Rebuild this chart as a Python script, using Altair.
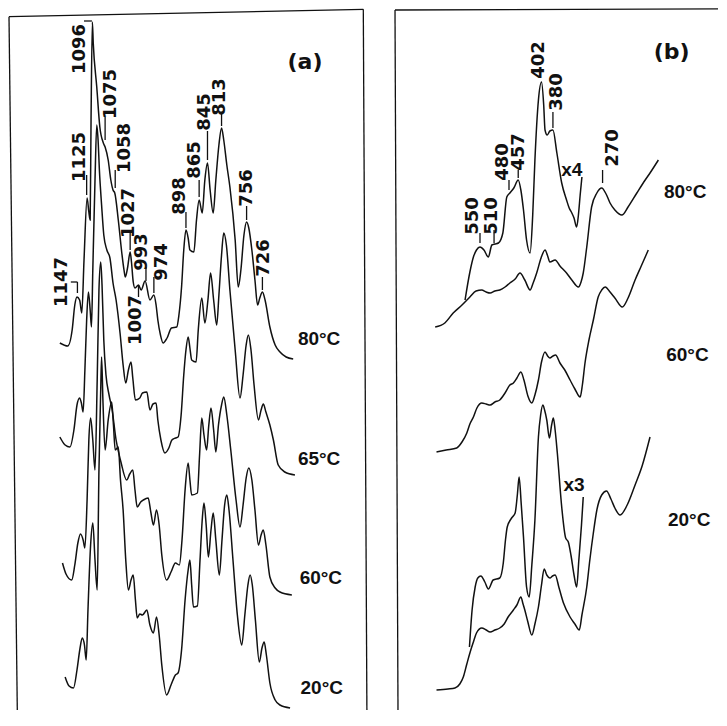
import altair as alt
import pandas as pd

# ---------------- Panel (a): Raman shift (cm-1) vs stacked intensity (a.u.)
A80_W = [1186,1168,1158,1152,1147,1141,1136,1131,1124,1120,1117,1115,1112,1110,1102,1095,1087,1083,1076,1070,1065,1061,1053,1045,1040,1037,1032,1026,1023,1019,1015,1007,1001,992,981,972,967,963,957,951,942,932,920,915,909,904,899,894,890,881,875,869,862,856,850,844,837,831,824,818,813,806,799,787,780,774,767,761,756,749,742,736,731,725,719,708,696,685,671,655]
A80_I = [375,372,388,413,421,418,405,458,520,506,498,598,696,675,631,591,575,571,558,538,528,525,498,465,448,441,450,466,456,436,430,433,428,437,418,423,413,398,383,375,380,390,391,403,431,468,488,480,468,466,498,518,505,538,555,528,505,538,573,590,578,553,531,478,431,448,483,496,490,468,438,413,420,426,418,391,373,366,361,359]

A65_W = [1186,1174,1163,1154,1147,1141,1137,1133,1129,1125,1121,1117,1114,1111,1106,1102,1099,1096,1091,1086,1079,1072,1065,1058,1049,1042,1036,1030,1024,1020,1014,1004,998,988,981,974,967,963,956,947,938,931,923,917,910,904,899,894,890,886,876,871,863,856,849,843,836,829,824,818,813,807,799,787,776,769,762,757,751,744,734,728,723,717,708,700,689,674,651]
A65_I = [281,273,271,288,313,320,315,306,348,398,426,408,391,448,538,593,578,548,513,483,468,460,435,418,385,353,335,348,356,340,318,320,325,326,308,314,315,298,278,265,270,278,280,281,303,343,368,381,370,358,356,388,420,395,418,445,418,393,423,463,485,473,428,368,320,343,373,383,368,333,298,308,314,306,293,278,253,246,243]

A60_W = [1180,1172,1159,1152,1145,1139,1133,1129,1124,1120,1116,1111,1106,1101,1097,1093,1090,1086,1081,1074,1067,1058,1047,1034,1027,1020,1015,1010,1002,996,985,979,973,966,960,954,943,933,923,914,908,901,894,890,886,873,868,863,858,852,847,842,836,831,825,818,813,806,797,785,776,769,762,756,749,742,734,728,723,717,708,696,685,658]
A60_I = [155,144,138,153,175,184,178,170,218,278,300,278,248,338,428,456,433,378,343,323,308,278,256,238,244,248,228,211,216,218,220,206,193,208,193,163,138,146,155,153,178,228,255,238,223,225,263,300,283,268,293,310,288,266,293,313,321,303,268,218,191,213,240,250,238,208,173,183,188,173,141,130,126,123]

A20_W = [1174,1165,1155,1147,1140,1135,1130,1126,1122,1116,1111,1106,1101,1097,1093,1091,1088,1083,1076,1068,1064,1060,1053,1048,1042,1036,1030,1024,1019,1014,1010,1004,998,988,981,973,966,960,954,943,933,923,917,909,901,894,890,886,882,873,867,862,858,853,848,842,837,831,823,817,811,806,801,792,782,772,765,758,753,748,741,732,726,721,716,708,696,685,662]
A20_I = [41,32,30,48,70,80,73,58,108,173,195,158,128,248,328,361,318,268,298,316,293,268,271,238,208,158,128,138,143,118,100,104,103,108,93,85,101,83,53,23,33,43,45,68,118,148,158,133,111,112,158,198,215,193,161,188,205,178,143,178,213,223,208,158,103,73,103,133,143,133,98,56,70,76,63,35,18,13,10]

PEAK_A = ["1147","1125","1096","1075","1058","1027","1007","993","974","898","865","845","813","756","726"]
PEAK_A_W = [1180,1140,1140,1070,1038,1029,1013,998,954,913,879,856,822,761,721]
PEAK_A_I = [436,561,669,624,570,505,398,466,456,522,558,606,621,530,460]
# leader segments: (w1, i1, w2, i2)
LEAD_A_W1 = [1161,1146,1125,1131,1083,1060,1026,1007,990,972,899,869,850,818,761,725]
LEAD_A_I1 = [436,436,543,697,601,548,485,421,451,441,506,538,587,605,512,441]
LEAD_A_W2 = [1146,1146,1125,1113,1083,1060,1026,1007,990,972,899,869,850,818,761,725]
LEAD_A_I2 = [436,425,523,697,578,530,468,433,437,425,490,521,558,592,498,428]

TEMP_A = ["80°C","65°C","60°C","20°C"]
TEMP_A_W = [596,596,592,590]
TEMP_A_I = [379,259,140,30]

# ---------------- Panel (b)
B80X4_W = [584,573,565,558,550,541,531,523,516,508,498,489,482,473,463,457,451,444,436,430,425,417,410,405,402,397,391,384,375,364,353,347,341,336,330,326,322,318]
B80X4_I = [418,446,461,468,471,468,461,473,474,475,485,521,525,530,538,528,508,478,465,503,558,618,636,613,588,583,587,588,565,535,518,510,505,500,491,503,523,541]

B80_W = [652,630,611,591,573,559,546,536,527,516,505,493,482,470,459,448,436,429,421,411,402,396,391,379,368,353,341,326,320,315,307,296,284,273,263,254,243,227,213,193,174,163,144]
B80_I = [391,395,405,413,421,427,428,426,425,427,428,431,435,439,445,438,428,435,445,460,468,462,456,458,452,445,438,431,436,445,471,511,525,530,524,515,508,503,511,525,538,545,558]

B60_W = [649,627,603,591,580,573,565,557,546,536,527,516,505,493,482,474,466,457,450,441,432,425,417,410,402,396,391,384,378,368,357,345,334,322,317,311,302,292,281,273,265,254,243,226,213,197,183,167]
B60_I = [266,268,270,276,285,294,301,310,315,314,313,316,318,325,333,335,340,346,338,322,315,323,338,356,366,362,360,362,363,355,348,338,329,321,333,355,378,398,421,428,431,426,420,411,420,438,452,468]

B20_W = [649,623,607,596,588,580,573,565,558,546,536,527,516,505,495,486,474,466,457,452,448,441,432,425,417,410,404,398,391,385,379,370,360,345,334,324,318,307,300,292,284,273,262,252,243,231,215,197,181,163]
B20_I = [28,29,30,34,41,54,65,76,85,90,88,86,88,90,94,101,108,113,121,114,108,96,83,94,111,133,149,143,140,142,143,130,115,101,94,88,103,131,158,185,208,223,227,219,210,203,213,233,252,281]

B20X3_W = [574,568,561,555,548,539,531,520,505,497,492,488,478,470,465,461,456,451,444,438,432,425,417,412,407,403,398,392,387,383,379,374,364,355,349,343,336,330,325,319,315]
B20X3_I = [71,108,131,140,142,136,129,138,140,155,178,191,200,205,223,241,213,181,131,121,153,198,281,303,313,308,298,280,293,300,288,265,211,180,176,163,143,131,158,193,221]

PEAK_B = ["550","510","480","457","402","380","270"]
PEAK_B_W = [566,523,498,461,416,375,248]
PEAK_B_I = [502,502,556,566,658,626,570]
LEAD_B_W1 = [550,518,484,463,384,271]
LEAD_B_I1 = [485,488,538,548,606,548]
LEAD_B_W2 = [550,518,484,463,384,271]
LEAD_B_I2 = [475,475,528,540,590,535]

TEMP_B = ["80°C","60°C","20°C","x4","x3"]
TEMP_B_W = [83,78,74,341,336]
TEMP_B_I = [526,363,198,548,233]

NUM_FONT = "DejaVu Sans"
LAB_FONT = "Liberation Sans"
INK = "#111111"


def traces(pairs):
    rows = []
    for name, ws, vs in pairs:
        for w, v in zip(ws, vs):
            rows.append({"trace": name, "w": w, "v": v})
    return pd.DataFrame(rows)


def panel(xdom, width, height, tr, peaks, leads, temps, tag, tag_pos, borders):
    xs = alt.Scale(domain=xdom, reverse=True, nice=False, zero=False)
    ys = alt.Scale(domain=[8, 710], nice=False, zero=False)
    X = alt.X("w:Q", scale=xs, axis=None)
    Y = alt.Y("v:Q", scale=ys, axis=None)

    lines = alt.Chart(traces(tr)).mark_line(
        interpolate="monotone", color=INK, strokeWidth=1.5
    ).encode(x=X, y=Y, detail="trace:N", order=alt.Order("w:Q", sort="descending"))

    ldf = pd.DataFrame({"w": leads[0], "v": leads[1], "w2": leads[2], "v2": leads[3]})
    leaders = alt.Chart(ldf).mark_rule(color=INK, strokeWidth=1.3).encode(
        x=X, y=Y, x2="w2:Q", y2="v2:Q")

    pdf = pd.DataFrame({"t": peaks[0], "w": peaks[1], "v": peaks[2]})
    ptext = alt.Chart(pdf).mark_text(
        angle=270, font=NUM_FONT, fontSize=18, fontWeight="bold", color=INK,
        align="center", baseline="middle"
    ).encode(x=X, y=Y, text="t:N")

    tdf = pd.DataFrame({"t": temps[0], "w": temps[1], "v": temps[2]})
    ttext = alt.Chart(tdf).mark_text(
        font=LAB_FONT, fontSize=19, fontWeight="bold", color=INK,
        align="center", baseline="middle"
    ).encode(x=X, y=Y, text="t:N")

    gdf = pd.DataFrame({"t": [tag], "w": [tag_pos[0]], "v": [tag_pos[1]]})
    gtext = alt.Chart(gdf).mark_text(
        font=NUM_FONT, fontSize=22, fontWeight="bold", color=INK,
        align="center", baseline="middle"
    ).encode(x=X, y=Y, text="t:N")

    layers = [lines, leaders, ptext, ttext, gtext]
    one = pd.DataFrame({"k": [0]})
    for (x1, y1, x2, y2) in borders:
        layers.append(alt.Chart(one).mark_rule(color=INK, strokeWidth=1.3).encode(
            x=alt.value(x1), y=alt.value(y1), x2=alt.value(x2), y2=alt.value(y2)))
    return alt.layer(*layers).properties(width=width, height=height)


pa = panel(
    [475.6, 1304.0], 364, 702,
    [("80", A80_W, A80_I), ("65", A65_W, A65_I), ("60", A60_W, A60_I), ("20", A20_W, A20_I)],
    (PEAK_A, PEAK_A_W, PEAK_A_I),
    (LEAD_A_W1, LEAD_A_I1, LEAD_A_W2, LEAD_A_I2),
    (TEMP_A, TEMP_A_W, TEMP_A_I),
    "(a)", (628, 656),
    [(1, 8.7, 355.3, 1.3), (1, 8.7, 9.3, 702), (355.3, 1.3, 358.9, 702)],
)

pb = panel(
    [6.0, 768.5], 335, 702,
    [("80x4", B80X4_W, B80X4_I), ("80", B80_W, B80_I), ("60", B60_W, B60_I),
     ("20", B20_W, B20_I), ("20x3", B20X3_W, B20X3_I)],
    (PEAK_B, PEAK_B_W, PEAK_B_I),
    (LEAD_B_W1, LEAD_B_I1, LEAD_B_W2, LEAD_B_I2),
    (TEMP_B, TEMP_B_W, TEMP_B_I),
    "(b)", (114, 666),
    [(11, 2, 334, 0.8), (11, 2, 14, 702)],
)

chart = alt.hconcat(pa, pb, spacing=12).properties(
    padding={"left": 0, "top": 0, "right": 0, "bottom": 0},
    background="white",
).configure_view(stroke=None)

chart.save("out.html", embed_options={"renderer": "svg", "actions": False})
